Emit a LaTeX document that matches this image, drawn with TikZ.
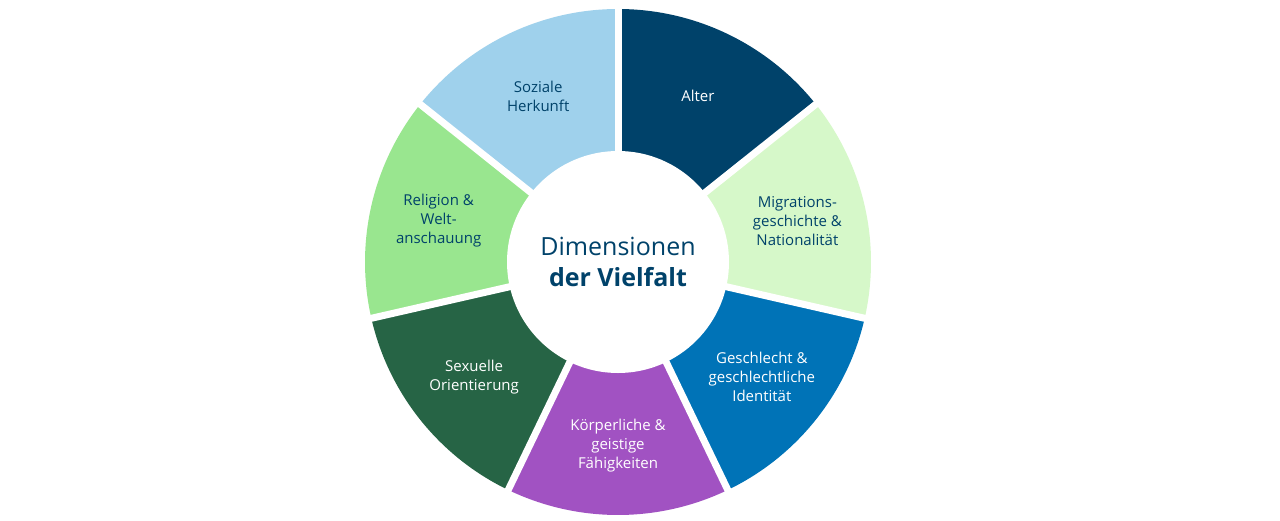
\documentclass[tikz,border=0pt]{standalone}
\usepackage{fontspec}
\setmainfont{Open Sans}
\begin{document}
\begin{tikzpicture}[x=1pt,y=1pt,
  lab/.style={align=center,font=\fontsize{15}{19}\selectfont},
  gap/.style={white,line width=7pt}]
\useasboundingbox[fill=white] (0,0) rectangle (1280,-520);
\definecolor{c0}{HTML}{00426A}
\definecolor{c1}{HTML}{D6F8C9}
\definecolor{c2}{HTML}{0073B7}
\definecolor{c3}{HTML}{A152C2}
\definecolor{c4}{HTML}{266445}
\definecolor{c5}{HTML}{99E68F}
\definecolor{c6}{HTML}{9FD1EC}
\definecolor{tx}{HTML}{00426A}
\begin{scope}[shift={(618,-262)}]
\foreach \i in {0,...,6}{
  \pgfmathsetmacro\a{90-360/7*\i}
  \pgfmathsetmacro\b{90-360/7*(\i+1)}
  \fill[c\i] (0,0) -- (\a:253) arc[start angle=\a,end angle=\b,radius=253] -- cycle;
}
\foreach \i in {0,...,6}{
  \pgfmathsetmacro\a{90-360/7*\i}
  \coordinate (g\i) at (\a:262);
  \draw[gap] (0,0) -- (g\i);
}
\node[circle,fill=white,minimum size=222pt,inner sep=0pt] (ctr) at (0,0) {};
\node[align=center,text=tx,font=\fontsize{25}{31}\selectfont] (title) at (0,0) {Dimensionen\\\textbf{der Vielfalt}};
\node[lab,white] (n0) at ({90-360/14}:184) {Alter};
\node[lab,text=tx] (n1) at ({90-3*360/14}:184) {Migrations-\\geschichte \&\\Nationalität};
\node[lab,white] (n2) at ({90-5*360/14}:184) {Geschlecht \&\\geschlechtliche\\Identität};
\node[lab,white] (n3) at ({90-7*360/14}:184) {Körperliche \&\\geistige\\Fähigkeiten};
\node[lab,white] (n4) at ({90-9*360/14}:184) {Sexuelle\\Orientierung};
\node[lab,text=tx] (n5) at ({90-11*360/14}:184) {Religion \&\\Welt-\\anschauung};
\node[lab,text=tx] (n6) at ({90-13*360/14}:184) {Soziale\\Herkunft};
\end{scope}
\end{tikzpicture}
\end{document}
